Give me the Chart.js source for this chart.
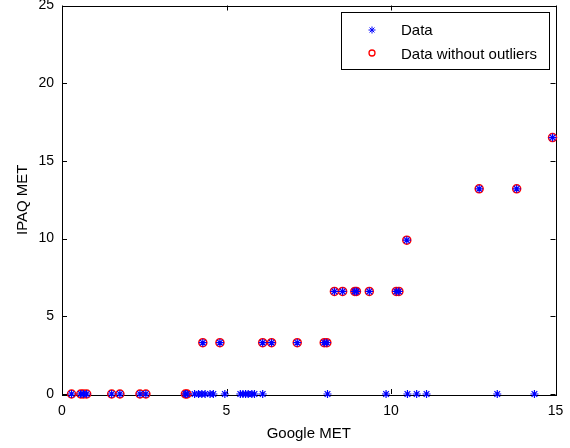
<!DOCTYPE html>
<html>
<head>
<meta charset="utf-8">
<script src="https://cdn.jsdelivr.net/npm/chart.js@4.4.0/dist/chart.umd.min.js"></script>
<style>
  html, body { margin: 0; padding: 0; background: #fff; }
</style>
</head>
<body>
<canvas id="myChart" width="570" height="448"></canvas>
<script>
// all data points (Google MET vs IPAQ MET)
const dataX = [
  0.29, 0.57, 0.65, 0.75, 1.51, 1.76, 2.37, 2.55, 3.75, 3.8,
  4.03, 4.15, 4.25, 4.35, 4.5, 4.6, 4.95, 5.42, 5.5, 5.58, 5.66, 5.77, 5.85, 6.1,
  8.07, 9.85, 10.5, 10.78, 11.08, 13.23, 14.36,
  4.28, 4.8, 6.1, 6.37, 7.15, 7.97, 8.05,
  8.28, 8.53, 8.9, 8.95, 9.34, 10.16, 10.24,
  10.48, 12.68, 13.82, 14.91
];
const dataY = [
  0, 0, 0, 0, 0, 0, 0, 0, 0, 0,
  0, 0, 0, 0, 0, 0, 0, 0, 0, 0, 0, 0, 0, 0,
  0, 0, 0, 0, 0, 0, 0,
  3.3, 3.3, 3.3, 3.3, 3.3, 3.3, 3.3,
  6.6, 6.6, 6.6, 6.6, 6.6, 6.6, 6.6,
  9.9, 13.2, 13.2, 16.5
];

// same data with the outliers removed
const cleanX = [
  0.29, 0.57, 0.65, 0.75, 1.51, 1.76, 2.37, 2.55, 3.75, 3.8,
  4.28, 4.8, 6.1, 6.37, 7.15, 7.97, 8.05,
  8.28, 8.53, 8.9, 8.95, 9.34, 10.16, 10.24,
  10.48, 12.68, 13.82, 14.91
];
const cleanY = [
  0, 0, 0, 0, 0, 0, 0, 0, 0, 0,
  3.3, 3.3, 3.3, 3.3, 3.3, 3.3, 3.3,
  6.6, 6.6, 6.6, 6.6, 6.6, 6.6, 6.6,
  9.9, 13.2, 13.2, 16.5
];

const xTicks = [0, 5, 10, 15];
const yTicks = [0, 5, 10, 15, 20, 25];
const seriesNames = ["Data", "Data without outliers"];

function toPoints(xs, ys) {
  let pts = [];
  for (let i = 0; i < xs.length; i++) {
    pts.push({ x: xs[i], y: ys[i] });
  }
  return pts;
}

const fontName = "'Liberation Sans', Arial, sans-serif";

// box around the axes with inward tick marks, matlab style
const boxPlugin = {
  id: "box",
  beforeDatasetsDraw(chart) {
    const ctx = chart.ctx;
    const a = chart.chartArea;
    const sx = chart.scales.x;
    const sy = chart.scales.y;
    const len = 5;
    ctx.save();
    ctx.strokeStyle = "#000";
    ctx.lineWidth = 1;
    ctx.strokeRect(Math.round(a.left) + 0.5, Math.round(a.top) + 0.5,
      Math.round(a.right - a.left), Math.round(a.bottom - a.top));
    ctx.beginPath();
    xTicks.forEach((v) => {
      let px = Math.round(sx.getPixelForValue(v)) + 0.5;
      ctx.moveTo(px, a.bottom);
      ctx.lineTo(px, a.bottom - len);
      ctx.moveTo(px, a.top);
      ctx.lineTo(px, a.top + len);
    });
    yTicks.forEach((v) => {
      let py = Math.round(sy.getPixelForValue(v)) + 0.5;
      ctx.moveTo(a.left, py);
      ctx.lineTo(a.left + len, py);
      ctx.moveTo(a.right, py);
      ctx.lineTo(a.right - len, py);
    });
    ctx.stroke();
    ctx.restore();
  },
};

// legend box inside the plot, top right
const legendPlugin = {
  id: "insideLegend",
  afterDraw(chart) {
    const ctx = chart.ctx;
    const bx = 341.5, by = 12.5, bw = 208, bh = 57;
    ctx.save();
    ctx.fillStyle = "#fff";
    ctx.fillRect(bx, by, bw, bh);
    ctx.strokeStyle = "#000";
    ctx.lineWidth = 1;
    ctx.strokeRect(bx, by, bw, bh);

    // star marker
    const mx = 372, y1 = 30, y2 = 53, r = 3.5;
    ctx.strokeStyle = "#0000ff";
    ctx.beginPath();
    ctx.moveTo(mx - r, y1); ctx.lineTo(mx + r, y1);
    ctx.moveTo(mx, y1 - r); ctx.lineTo(mx, y1 + r);
    ctx.moveTo(mx - r * 0.7, y1 - r * 0.7); ctx.lineTo(mx + r * 0.7, y1 + r * 0.7);
    ctx.moveTo(mx - r * 0.7, y1 + r * 0.7); ctx.lineTo(mx + r * 0.7, y1 - r * 0.7);
    ctx.stroke();

    // circle marker
    ctx.strokeStyle = "#ff0000";
    ctx.lineWidth = 1.3;
    ctx.beginPath();
    ctx.arc(mx, y2, 3, 0, Math.PI * 2);
    ctx.stroke();

    ctx.fillStyle = "#000";
    ctx.font = "15px " + fontName;
    ctx.textBaseline = "middle";
    ctx.textAlign = "left";
    ctx.fillText(seriesNames[0], 401, y1 + 1);
    ctx.fillText(seriesNames[1], 401, y2 + 2);
    ctx.restore();
  },
};

// drop the extra room chart.js keeps for edge labels
function noEdgePadding(scale) {
  scale.paddingTop = 0;
  scale.paddingBottom = 0;
  scale.paddingLeft = 0;
  scale.paddingRight = 0;
}

let ctx = document.getElementById("myChart").getContext("2d");
let myChart = new Chart(ctx, {
  type: "scatter",
  data: {
    datasets: [
      {
        label: seriesNames[0],
        data: toPoints(dataX, dataY),
        pointStyle: "star",
        pointRadius: 4,
        borderColor: "#0000ff",
        backgroundColor: "#0000ff",
        borderWidth: 1.2,
        clip: false,
      },
      {
        label: seriesNames[1],
        data: toPoints(cleanX, cleanY),
        pointStyle: "circle",
        pointRadius: 4,
        borderColor: "#ff0000",
        backgroundColor: "rgba(0,0,0,0)",
        borderWidth: 1.5,
        clip: false,
      },
    ],
  },
  options: {
    responsive: false,
    animation: false,
    layout: { padding: { top: 5, right: 14.5, left: 0, bottom: 0 } },
    plugins: {
      legend: { display: false },
      tooltip: { enabled: false },
    },
    scales: {
      x: {
        type: "linear",
        min: 0,
        max: 15,
        afterBuildTicks: (scale) => {
          scale.ticks = xTicks.map((v) => ({ value: v }));
        },
        afterFit: (scale) => {
          scale.height = 54;
          noEdgePadding(scale);
        },
        grid: { display: false, drawTicks: false },
        border: { display: false },
        ticks: {
          color: "#000",
          padding: 9,
          maxRotation: 0,
          font: { family: fontName, size: 14 },
        },
        title: {
          display: true,
          text: "Google MET",
          color: "#000",
          font: { family: fontName, size: 15 },
          padding: { top: 0, bottom: 5 },
        },
      },
      y: {
        type: "linear",
        min: 0,
        max: 25,
        afterBuildTicks: (scale) => {
          scale.ticks = yTicks.map((v) => ({ value: v }));
        },
        afterFit: (scale) => {
          scale.width = 62;
          noEdgePadding(scale);
        },
        grid: { display: false, drawTicks: false },
        border: { display: false },
        ticks: {
          color: "#000",
          padding: 8,
          font: { family: fontName, size: 14 },
        },
        title: {
          display: true,
          text: "IPAQ MET",
          color: "#000",
          font: { family: fontName, size: 15 },
          padding: { top: 14, bottom: 0 },
        },
      },
    },
  },
  plugins: [boxPlugin, legendPlugin],
});
</script>
</body>
</html>
